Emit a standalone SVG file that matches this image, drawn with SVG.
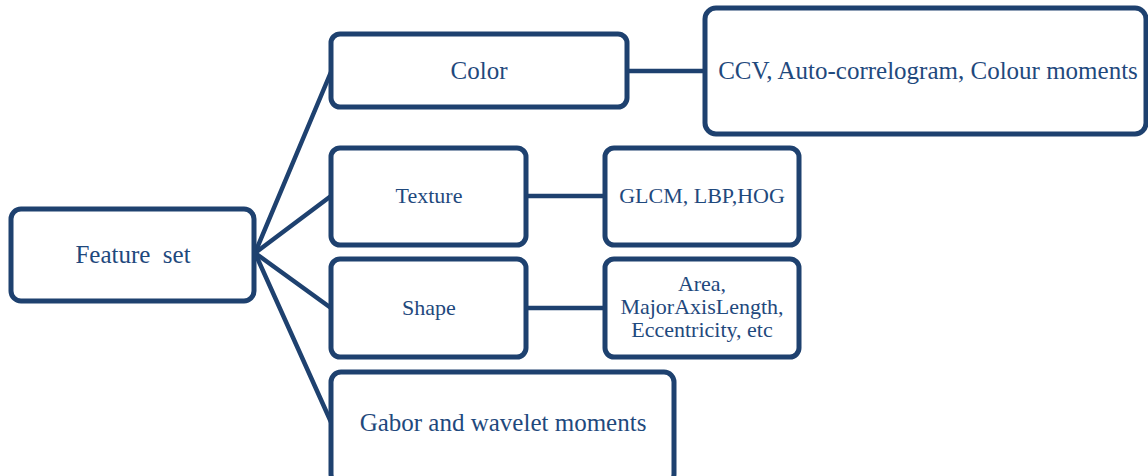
<svg xmlns="http://www.w3.org/2000/svg" width="1148" height="476" viewBox="0 0 1148 476">
<style>
.box{fill:#fff;stroke:#1E416F;stroke-width:5}
.con{stroke:#1E416F;stroke-width:4.5;fill:none;stroke-linecap:round}
text{font-family:"Liberation Serif","Times New Roman",serif;fill:#1F497D;text-anchor:middle}
.l{font-size:25px}
.s{font-size:22px}
</style>
<rect width="1148" height="476" fill="#fff"/>
<g id="connectors">
<line class="con" x1="255" y1="253" x2="331" y2="72"/>
<line class="con" x1="255" y1="253" x2="331" y2="196"/>
<line class="con" x1="255" y1="253" x2="331" y2="308"/>
<line class="con" x1="255" y1="253" x2="331" y2="422"/>
<line class="con" x1="627" y1="71" x2="705" y2="71"/>
<line class="con" x1="526" y1="196" x2="605" y2="196"/>
<line class="con" x1="526" y1="308" x2="605" y2="308"/>
</g>
<g id="feature-set">
<rect class="box" x="11" y="209" width="243" height="92" rx="10"/>
<text class="l" x="133" y="263" xml:space="preserve">Feature  set</text>
</g>
<g id="color">
<rect class="box" x="331" y="34" width="296" height="73" rx="9"/>
<text class="l" x="479" y="79">Color</text>
</g>
<g id="color-features">
<rect class="box" x="705" y="8" width="441" height="126" rx="11"/>
<text class="l" x="928" y="79">CCV, Auto-correlogram, Colour moments</text>
</g>
<g id="texture">
<rect class="box" x="331" y="148" width="195" height="97" rx="9"/>
<text class="s" x="429" y="203">Texture</text>
</g>
<g id="texture-features">
<rect class="box" x="605" y="148" width="194" height="97" rx="9"/>
<text class="s" x="702" y="203">GLCM, LBP,HOG</text>
</g>
<g id="shape">
<rect class="box" x="331" y="259" width="195" height="98" rx="9"/>
<text class="s" x="429" y="315">Shape</text>
</g>
<g id="shape-features">
<rect class="box" x="605" y="259" width="194" height="98" rx="9"/>
<text class="s" x="702" y="291">Area,</text>
<text class="s" x="702" y="314">MajorAxisLength,</text>
<text class="s" x="702" y="337">Eccentricity, etc</text>
</g>
<g id="gabor">
<rect class="box" x="331" y="372" width="343" height="112" rx="10"/>
<text class="l" x="503" y="431">Gabor and wavelet moments</text>
</g>
</svg>
